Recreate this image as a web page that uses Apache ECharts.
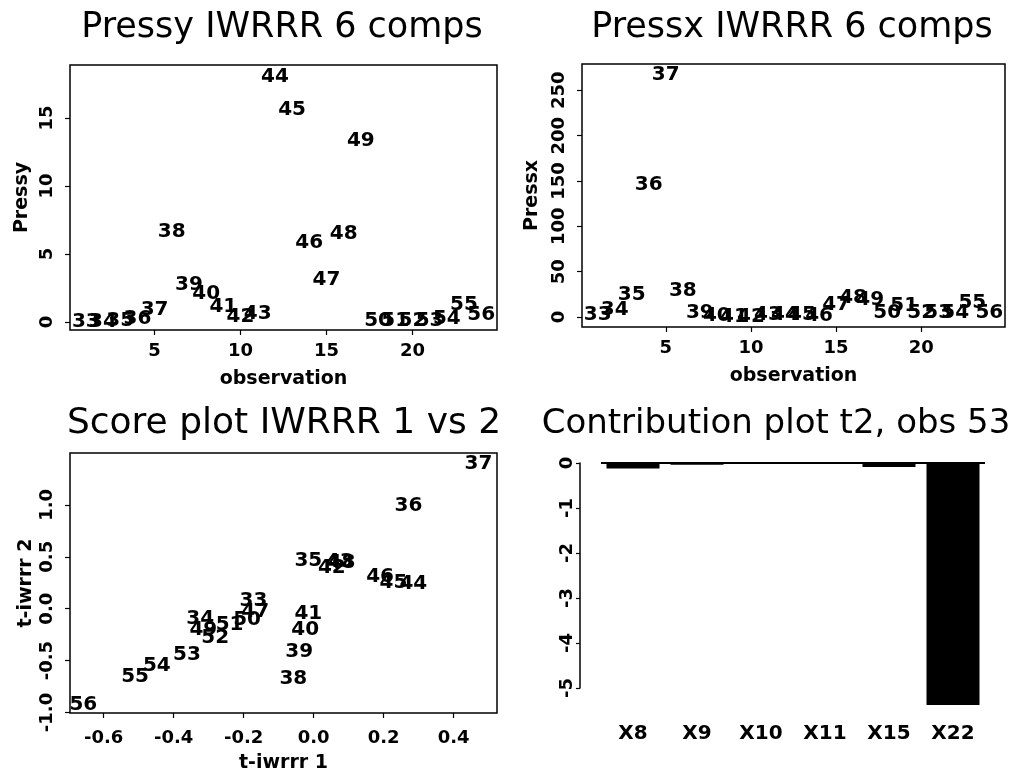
<!DOCTYPE html>
<html><head><meta charset="utf-8">
<script src="https://cdn.jsdelivr.net/npm/echarts@6/dist/echarts.min.js"></script>
<style>html,body{margin:0;padding:0;background:#fff}#c{width:1019px;height:774px}</style>
</head><body><div id="c"></div>
<script>
// ---- data ----
const obsLabels = ['33','34','35','36','37','38','39','40','41','42','43','44','45','46','47','48','49','50','51','52','53','54','55','56'];
const obsIndex = [1,2,3,4,5,6,7,8,9,10,11,12,13,14,15,16,17,18,19,20,21,22,23,24];
const pressy = [0.05,0.05,0.1,0.2,0.9,6.6,2.7,2.1,1.1,0.4,0.6,18.0,15.6,5.8,3.1,6.5,13.3,0.1,0.1,0.1,0.1,0.25,1.25,0.5];
const pressx = [2,8,24,146,267,29,5,1.5,0.3,0.5,3,3,3,1.5,14,21,19,5,12,5,5,5,16,5];
const score1 = [-0.172,-0.324,-0.015,0.271,0.471,-0.058,-0.041,-0.024,-0.015,0.052,0.075,0.285,0.228,0.19,-0.167,0.08,-0.315,-0.19,-0.24,-0.281,-0.362,-0.448,-0.51,-0.658];
const score2 = [0.08,-0.095,0.457,0.99,1.40,-0.68,-0.42,-0.20,-0.05,0.39,0.45,0.236,0.25,0.306,-0.03,0.44,-0.205,-0.11,-0.155,-0.28,-0.44,-0.55,-0.66,-0.93];
const contribVars = ['X8','X9','X10','X11','X15','X22'];
const contribValues = [-0.12,-0.04,-0.02,-0.01,-0.09,-5.38];
const obsTicks = [5,10,15,20];
const pressyTicks = [0,5,10,15];
const pressxTicks = [0,50,100,150,200,250];
const scoreTicksX = [-0.6,-0.4,-0.2,0,0.2,0.4];
const scoreTicksY = [-1,-0.5,0,0.5,1];
const titles = ['Pressy IWRRR 6 comps','Pressx IWRRR 6 comps','Score plot IWRRR 1 vs 2','Contribution plot t2, obs 53'];

// ---- styling ----
const FONT = 'DejaVu Sans';
const BLACK = '#000';

function valAxis(gi, min, max, ticks, name, opt) {
  opt = opt || {};
  return {
    type: 'value', gridIndex: gi, min: min, max: max,
    axisLine: {show: false, onZero: false}, splitLine: {show: false},
    axisTick: {show: true, inside: false, length: 5, lineStyle: {color: BLACK, width: 1.2}, customValues: ticks},
    axisLabel: {customValues: ticks, color: BLACK, fontFamily: FONT, fontWeight: 'bold', fontSize: 18,
      margin: opt.margin || 12, rotate: opt.rotate || 0, formatter: opt.fmt || (v => String(v))},
    name: name, nameLocation: 'middle', nameGap: opt.nameGap || 36, nameRotate: opt.nameRotate,
    nameTextStyle: {color: BLACK, fontFamily: FONT, fontWeight: 'bold', fontSize: 19}
  };
}

function labelScatter(xi, xs, ys) {
  return {
    type: 'scatter', xAxisIndex: xi, yAxisIndex: xi, silent: true,
    symbolSize: 0, itemStyle: {color: BLACK, opacity: 1},
    data: xs.map((x, i) => ({name: obsLabels[i], value: [x, ys[i]]})),
    label: {show: true, position: 'inside', formatter: p => p.name, color: BLACK, opacity: 1,
      fontFamily: FONT, fontWeight: 'bold', fontSize: 20}
  };
}

const gridStyle = {show: true, borderColor: BLACK, borderWidth: 1.5, backgroundColor: 'transparent'};
const fmt1 = v => v.toFixed(1);

const option = {
  animation: false,
  backgroundColor: '#fff',
  grid: [
    Object.assign({left: 70, top: 65, width: 427, height: 265}, gridStyle),
    Object.assign({left: 582, top: 64, width: 423, height: 263}, gridStyle),
    Object.assign({left: 70, top: 453, width: 427, height: 264}, gridStyle),
    {left: 601, top: 463, width: 384, height: 225, show: false}
  ],
  xAxis: [
    valAxis(0, 0.08, 24.92, obsTicks, 'observation', {nameGap: 40}),
    valAxis(1, 0.08, 24.92, obsTicks, 'observation', {nameGap: 40}),
    valAxis(2, -0.696, 0.524, scoreTicksX, 't-iwrrr 1', {fmt: fmt1, nameGap: 41, margin: 16}),
    {type: 'category', gridIndex: 3, data: contribVars,
      axisLine: {show: false, onZero: false}, axisTick: {show: false},
      axisLabel: {color: BLACK, fontFamily: FONT, fontWeight: 'bold', fontSize: 20, margin: 36}}
  ],
  yAxis: [
    valAxis(0, -0.59, 18.9, pressyTicks, 'Pressy', {rotate: 90, margin: 14, nameGap: 38, nameRotate: 90}),
    valAxis(1, -11, 279, pressxTicks, 'Pressx', {rotate: 90, margin: 14, nameGap: 40, nameRotate: 90}),
    valAxis(2, -1.005, 1.5, scoreTicksY, 't-iwrrr 2', {rotate: 90, margin: 14, fmt: fmt1, nameGap: 34, nameRotate: 90}),
    {type: 'value', gridIndex: 3, min: -5, max: 0, interval: 1, position: 'left', offset: 21,
      axisLine: {show: true, onZero: false, lineStyle: {color: BLACK, width: 1.5}},
      axisTick: {show: true, inside: false, length: 4, lineStyle: {color: BLACK, width: 1.2}},
      splitLine: {show: false},
      axisLabel: {color: BLACK, fontFamily: FONT, fontWeight: 'bold', fontSize: 18, rotate: 90, margin: 4}}
  ],
  graphic: [
    {type: 'text', x: 282, y: 28, style: {text: titles[0], font: '35px "DejaVu Sans"', fill: BLACK, textAlign: 'center', textVerticalAlign: 'middle'}},
    {type: 'text', x: 792, y: 28, style: {text: titles[1], font: '35px "DejaVu Sans"', fill: BLACK, textAlign: 'center', textVerticalAlign: 'middle'}},
    {type: 'text', x: 284, y: 424, style: {text: titles[2], font: '36px "DejaVu Sans"', fill: BLACK, textAlign: 'center', textVerticalAlign: 'middle'}},
    {type: 'text', x: 776, y: 424, style: {text: titles[3], font: '34px "DejaVu Sans"', fill: BLACK, textAlign: 'center', textVerticalAlign: 'middle'}}
  ],
  series: [
    labelScatter(0, obsIndex, pressy),
    labelScatter(1, obsIndex, pressx),
    labelScatter(2, score1, score2),
    {type: 'bar', xAxisIndex: 3, yAxisIndex: 3, data: contribValues, barWidth: 53, clip: false,
      itemStyle: {color: BLACK}, silent: true,
      markLine: {silent: true, symbol: 'none', label: {show: false},
        lineStyle: {color: BLACK, width: 2, type: 'solid'}, data: [{yAxis: 0}]}}
  ]
};

const chart = echarts.init(document.getElementById('c'), null, {renderer: 'canvas'});
chart.setOption(option);
</script>
</body></html>
